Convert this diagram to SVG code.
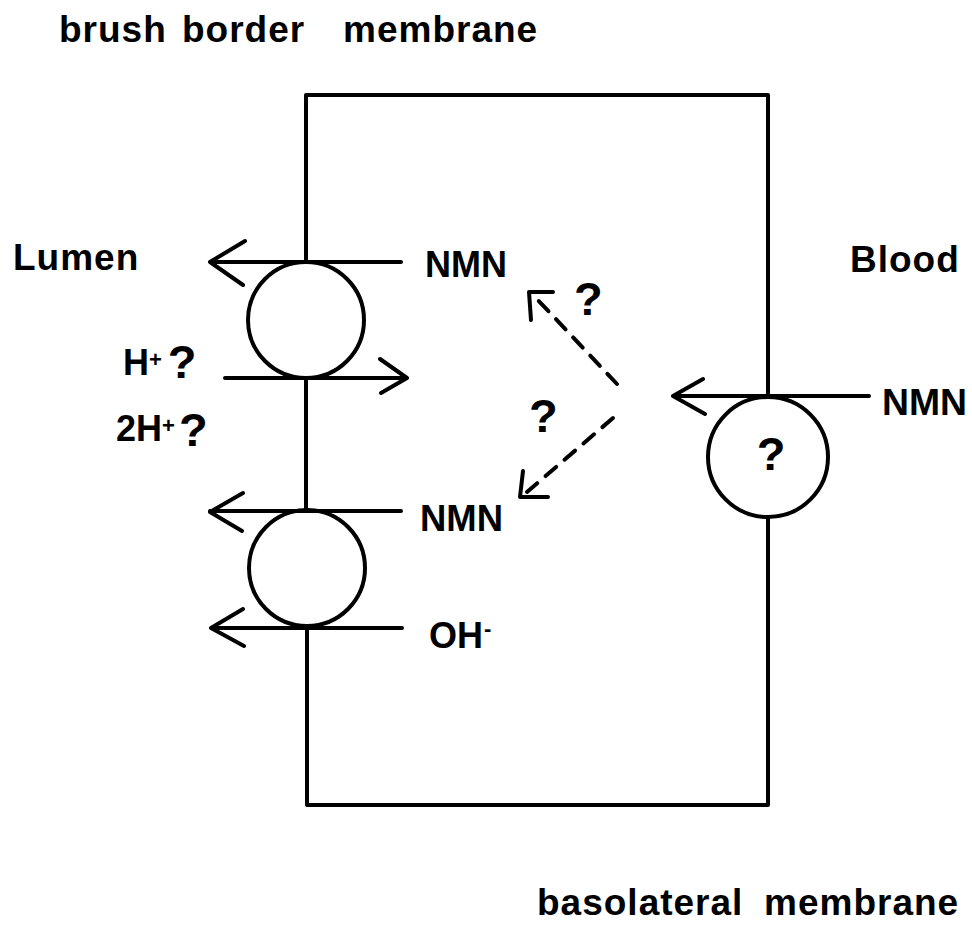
<svg xmlns="http://www.w3.org/2000/svg" width="972" height="925" viewBox="0 0 972 925">
<style>
.ln{fill:none;stroke:#000;stroke-width:4;stroke-linecap:round;stroke-linejoin:round}
.dash{fill:none;stroke:#000;stroke-width:4;stroke-linecap:round;stroke-dasharray:14 11}
.t{font-family:"Liberation Sans",Arial,sans-serif;font-weight:bold;font-size:37px;fill:#000;letter-spacing:1px}
.s{font-family:"Liberation Sans",Arial,sans-serif;font-weight:bold;font-size:36px;fill:#000}
.sup{font-size:22px}
.q{font-family:"Liberation Sans",Arial,sans-serif;font-weight:bold;font-size:47px;fill:#000}
.qs{font-size:47px}
</style>
<rect width="972" height="925" fill="#fff"/>
<g id="labels">
<text class="t" y="42"><tspan x="59">brush</tspan><tspan x="182">border</tspan><tspan x="343">membrane</tspan></text>
<text class="t" x="13" y="270" letter-spacing="0">Lumen</text>
<text class="t" x="850" y="272" letter-spacing="0">Blood</text>
<text class="t" y="915"><tspan x="537">basolateral</tspan><tspan x="764">membrane</tspan></text>
</g>
<g id="cell">
<path class="ln" d="M306,262 V95 H768 V397"/>
<path class="ln" d="M768,517 V805 H307 V627"/>
<path class="ln" d="M306,378 V510"/>
</g>
<g id="transporter1">
<circle class="ln" cx="306" cy="320" r="58"/>
</g>
<g id="transporter2">
<circle class="ln" cx="307" cy="568" r="58"/>
</g>
<g id="transporter3">
<circle class="ln" cx="768" cy="457" r="60"/>
<text class="q" x="771" y="470" text-anchor="middle">?</text>
</g>
<g id="connectors">
<path class="ln" d="M401,262 H210 M245,241 L210,262 L243,285"/>
<path class="ln" d="M225,378 H407 M380,359 L407,378 L381,393"/>
<path class="ln" d="M401,511 H210 M243,493 L210,512 L242,531"/>
<path class="ln" d="M402,628 H211 M243,609 L211,628 L244,646"/>
<path class="ln" d="M869,396 H673 M703,379 L673,396 L705,414"/>
<path class="dash" d="M617,384 L536,298"/>
<path class="ln" d="M553,292 L529,292 L531,320"/>
<path class="dash" d="M613,418 L527,492"/>
<path class="ln" d="M523,471 L520,497 L548,497"/>
</g>
<g id="texts">
<text class="s" x="425" y="277" textLength="82" lengthAdjust="spacingAndGlyphs">NMN</text>
<text class="s" x="420" y="531" textLength="83" lengthAdjust="spacingAndGlyphs">NMN</text>
<text class="s" x="882" y="415" textLength="85" lengthAdjust="spacingAndGlyphs">NMN</text>
<text class="s" x="429" y="648">OH<tspan class="sup" dx="1" dy="-12">-</tspan></text>
<text class="s" x="123" y="375">H<tspan class="sup" dy="-8">+</tspan><tspan class="qs" dx="6" dy="11">?</tspan></text>
<text class="s" x="116" y="441">2H<tspan class="sup" dy="-8">+</tspan><tspan class="qs" dx="4" dy="13">?</tspan></text>
<text class="q" x="574" y="315">?</text>
<text class="q" x="529" y="432">?</text>
</g>
</svg>
